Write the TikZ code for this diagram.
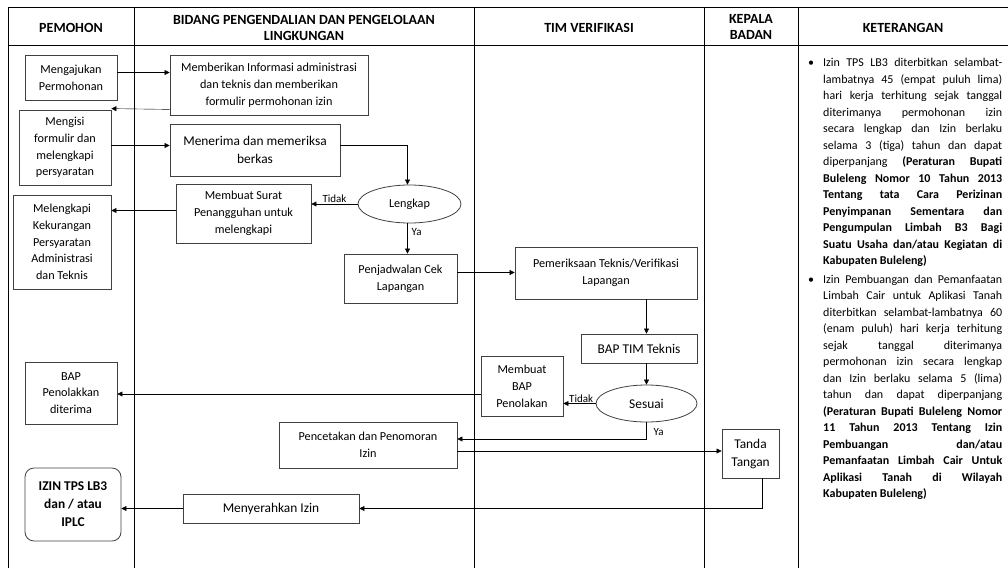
\documentclass[tikz,border=0pt]{standalone}
\usepackage{fontspec}
\setmainfont{Carlito}
\usetikzlibrary{arrows.meta, positioning, calc, shapes.geometric}
\hbadness=10000

\begin{document}
\begin{tikzpicture}[x=1pt, y=-1pt, >={Triangle[length=5pt,width=5pt]},
    font=\fontsize{12.2}{16.8}\selectfont,
    box/.style={draw=black!75, line width=0.8pt, align=center, inner sep=2pt},
    big/.style={font=\fontsize{13.4}{18}\selectfont},
    choice/.style={draw=black!75, line width=0.8pt, ellipse, inner sep=1pt},
    head/.style={font=\fontsize{14}{16}\selectfont\bfseries, align=center},
    lane/.style={line width=0.8pt},
    lbl/.style={inner sep=1pt, font=\fontsize{11}{12}\selectfont}]
    \useasboundingbox (0,0) rectangle (1008,568);
    % swimlanes
    \draw[lane] (8,568) -- (8,7) -- (1008,7);
    \draw[lane] (8,45) -- (1008,45);
    \foreach \x in {134,474,704,798} \draw[lane] (\x,7) -- (\x,568);
    \node[head] (hp) at (71,28) {PEMOHON};
    \node[head] (hb) at (304,28) {BIDANG PENGENDALIAN DAN PENGELOLAAN\\LINGKUNGAN};
    \node[head] (ht) at (589,28) {TIM VERIFIKASI};
    \node[head] (hk) at (751,27) {KEPALA\\BADAN};
    \node[head] (hn) at (903,28) {KETERANGAN};
    % pemohon
    \node[box, minimum width=92, minimum height=45] (ajukan) at (71,77.5) {Mengajukan\\Permohonan};
    \node[box, minimum width=92, minimum height=75] (isi) at (65,147.5) {Mengisi\\formulir dan\\melengkapi\\persyaratan};
    \node[box, minimum width=98, minimum height=94] (lengkapi) at (62,242) {Melengkapi\\Kekurangan\\Persyaratan\\Administrasi\\dan Teknis};
    \node[box, minimum width=92, minimum height=62] (tolak) at (71,393) {BAP\\Penolakkan\\diterima};
    \node[box, rounded corners=9pt, minimum width=96, minimum height=73, font=\fontsize{13.4}{18}\selectfont\bfseries] (izin) at (73,504.5) {IZIN TPS LB3\\dan / atau\\IPLC};
    % bidang
    \node[box, minimum width=198, minimum height=60] (info) at (269,85) {Memberikan Informasi administrasi\\dan teknis dan memberikan\\formulir permohonan izin};
    \node[box, big, minimum width=170, minimum height=52] (terima) at (255,150) {Menerima dan memeriksa\\berkas};
    \node[choice, minimum width=103, minimum height=38] (lengkap) at (409.5,204) {Lengkap};
    \node[box, minimum width=135, minimum height=59] (surat) at (243.5,213.5) {Membuat Surat\\Penangguhan untuk\\melengkapi};
    \node[box, minimum width=113, minimum height=49] (jadwal) at (400.5,278.5) {Penjadwalan Cek\\Lapangan};
    \node[box, minimum width=178, minimum height=46] (cetak) at (368,445) {Pencetakan dan Penomoran\\Izin};
    \node[box, big, minimum width=176, minimum height=29] (serah) at (271,508.5) {Menyerahkan Izin};
    % tim verifikasi
    \node[box, minimum width=182, minimum height=52] (periksa) at (606,273) {Pemeriksaan Teknis/Verifikasi\\Lapangan};
    \node[box, big, minimum width=116, minimum height=29] (baptim) at (639,348.5) {BAP TIM Teknis};
    \node[choice, big, minimum width=101, minimum height=37] (sesuai) at (646.5,403.5) {Sesuai};
    \node[box, minimum width=82, minimum height=60] (bappen) at (522,386) {Membuat\\BAP\\Penolakan};
    % kepala badan
    \node[box, big, minimum width=57, minimum height=49] (ttd) at (750.5,453.5) {Tanda\\Tangan};
    % keterangan
    \node[anchor=north west, inner sep=0pt, text width=194, align=justify,
          font=\fontsize{12}{16.5}\selectfont] (ket) at (808,58) {%
      \hangindent=15pt\hangafter=1\noindent\makebox[15pt][l]{\textbullet}Izin TPS LB3 diterbitkan selambat-\linebreak
      lambatnya 45 (empat puluh lima)\linebreak
      hari kerja terhitung sejak tanggal\linebreak
      diterimanya permohonan izin\linebreak
      secara lengkap dan Izin berlaku\linebreak
      selama 3 (tiga) tahun dan dapat\linebreak
      diperpanjang \textbf{(Peraturan Bupati\linebreak
      Buleleng Nomor 10 Tahun 2013\linebreak
      Tentang tata Cara Perizinan\linebreak
      Penyimpanan Sementara dan\linebreak
      Pengumpulan Limbah B3 Bagi\linebreak
      Suatu Usaha dan/atau Kegiatan di\linebreak
      Kabupaten Buleleng)}\par
      \vspace{2pt}
      \hangindent=15pt\hangafter=1\noindent\makebox[15pt][l]{\textbullet}Izin Pembuangan dan Pemanfaatan\linebreak
      Limbah Cair untuk Aplikasi Tanah\linebreak
      diterbitkan selambat-lambatnya 60\linebreak
      (enam puluh) hari kerja terhitung\linebreak
      sejak tanggal diterimanya\linebreak
      permohonan izin secara lengkap\linebreak
      dan Izin berlaku selama 5 (lima)\linebreak
      tahun dan dapat diperpanjang\linebreak
      \textbf{(Peraturan Bupati Buleleng Nomor\linebreak
      11 Tahun 2013 Tentang Izin\linebreak
      Pembuangan dan/atau\linebreak
      Pemanfaatan Limbah Cair Untuk\linebreak
      Aplikasi Tanah di Wilayah\linebreak
      Kabupaten Buleleng)}\par};
    % arrows
    \draw[->] ([yshift=5pt]ajukan.east) -- ([yshift=5pt]ajukan.east -| info.west);
    \draw[->] ([yshift=6pt]info.south west) -- ([yshift=1pt]isi.north east);
    \draw[->] ([yshift=2pt]isi.east) -- ([yshift=2pt]isi.east -| terima.west);
    \draw[->] ([yshift=5pt]terima.east) -| ([xshift=-2pt]lengkap.north);
    \draw[->] (lengkap.west) -- node[lbl, above] {Tidak} (lengkap.west -| surat.east);
    \draw[->] ([yshift=3pt]surat.west) -- ([yshift=3pt]surat.west -| lengkapi.east);
    \draw[->] ([xshift=-2pt]lengkap.south) -- node[lbl, right=3pt, pos=0.3] {Ya} ([xshift=-2pt]lengkap.south |- jadwal.north);
    \draw[->] ([yshift=6pt]jadwal.east) -- ([yshift=6pt]jadwal.east -| periksa.west);
    \draw[->] (periksa.south -| sesuai) -- (baptim.north -| sesuai);
    \draw[->] (baptim.south -| sesuai) -- (sesuai.north);
    \draw[->] (sesuai.west) -- node[lbl, above, pos=0.45] {Tidak} (sesuai.west -| bappen.east);
    \draw[->] ([yshift=-8pt]bappen.west) -- ([yshift=-8pt]bappen.west -| tolak.east);
    \draw[->] (sesuai.south) |- node[lbl, right=6pt, pos=0.3] {Ya} ([yshift=6pt]cetak.east);
    \draw[->] ([yshift=-6pt]cetak.east) -- ([yshift=-6pt]cetak.east -| ttd.west);
    \draw[->] ([xshift=12pt]ttd.south) |- (serah.east);
    \draw[->] (serah.west) -- (serah.west -| izin.east);
\end{tikzpicture}
\end{document}
